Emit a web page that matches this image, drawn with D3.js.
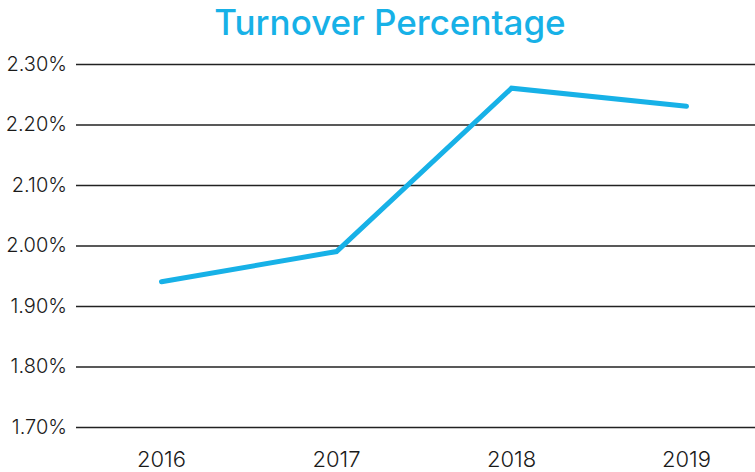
<!DOCTYPE html>
<html lang="en">
<head>
<meta charset="utf-8">
<script src="https://cdn.jsdelivr.net/npm/d3@7"></script>
<style>
  body { margin: 0; background: #fff; }
  text { font-family: "Inter", "Open Sans", sans-serif; }
  .grid line { stroke: #222; stroke-width: 1.6; }
  .tick text { fill: #1a1a1a; font-weight: 300; }
  .grid .tick text { font-size: 20px; }
  .xaxis .tick text { font-size: 22px; }
</style>
</head>
<body>
<script>
// data
var years = ["2016", "2017", "2018", "2019"];
var turnover = [1.94, 1.99, 2.26, 2.23];
var yTicks = [1.7, 1.8, 1.9, 2.0, 2.1, 2.2, 2.3];

var width = 755, height = 472;

var svg = d3.select("body").append("svg")
    .attr("width", width)
    .attr("height", height);

// scales
var x = d3.scaleBand().domain(years).range([74, 774]);
var y = d3.scaleLinear().domain([1.7, 2.3]).range([427, 64]);

// gridlines + y labels
var yAxis = svg.append("g")
    .attr("class", "grid")
    .attr("transform", "translate(76,0)")
    .call(d3.axisLeft(y)
      .tickValues(yTicks)
      .tickSize(-(width - 76))
      .tickPadding(9)
      .tickFormat(function(d) { return d.toFixed(2) + "%"; }));
yAxis.select(".domain").remove();

// x labels
var xAxis = svg.append("g")
    .attr("class", "xaxis")
    .attr("transform", "translate(0,446)")
    .call(d3.axisBottom(x).tickSize(0).tickPadding(5));
xAxis.select(".domain").remove();

// the line
var line = d3.line()
    .x(function(d, i) { return x(years[i]) + x.bandwidth() / 2; })
    .y(function(d) { return y(d); });

svg.append("path")
    .datum(turnover)
    .attr("fill", "none")
    .attr("stroke", "#17b1e7")
    .attr("stroke-width", 5)
    .attr("stroke-linecap", "round")
    .attr("d", line);

// title
svg.append("text")
    .attr("x", 390)
    .attr("y", 35)
    .attr("text-anchor", "middle")
    .style("font-size", "35px")
    .style("font-weight", 500)
    .style("fill", "#17b1e7")
    .text("Turnover Percentage");
</script>
</body>
</html>
